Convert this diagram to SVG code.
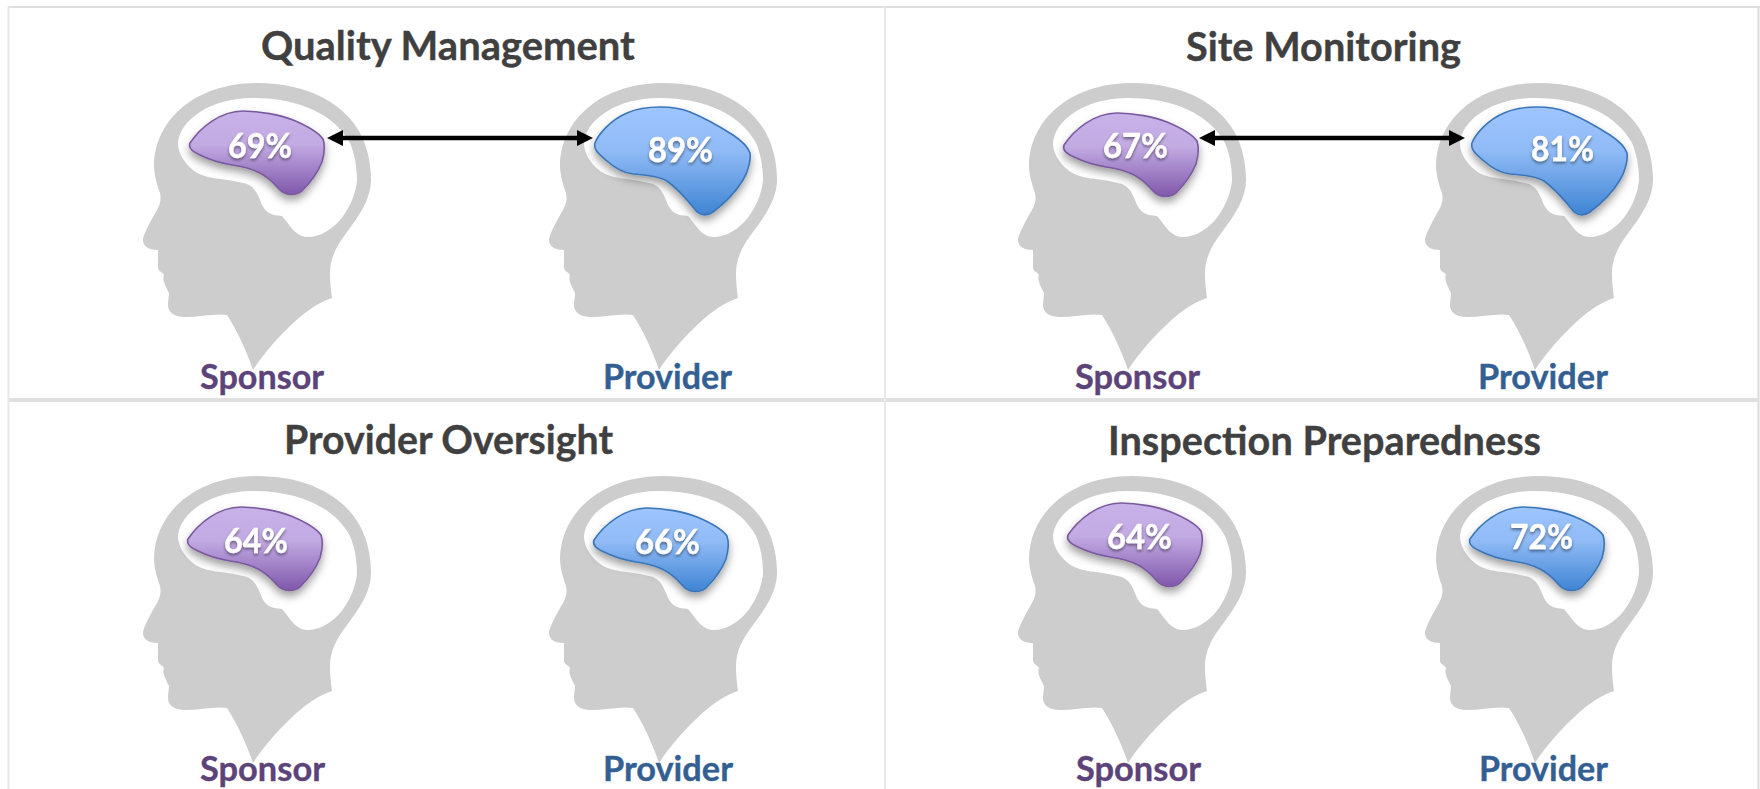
<svg xmlns="http://www.w3.org/2000/svg" width="1760" height="789" viewBox="0 0 1760 789">
<style>
text{font-family:Lato,"Liberation Sans",sans-serif;font-weight:700;text-anchor:middle;stroke-width:.35px}
.title{font-size:40px;fill:#404040;stroke:#404040}
.sp{font-size:34px;fill:#5c4379;stroke:#5c4379}
.pr{font-size:34px;fill:#345f93;stroke:#345f93}
.pct{font-size:35px;fill:#fff;stroke:#fff;filter:url(#ts)}
.head{fill:#cdcdcd;fill-rule:evenodd}
.grid{stroke:#e2e2e2;fill:none}
.purple{fill:url(#gp);stroke:#7a5a9e;filter:url(#ds)}
.blue{fill:url(#gb);stroke:#3a75b8;filter:url(#ds)}
.conn{stroke:#000;stroke-width:4.500;fill:none;marker-start:url(#ah);marker-end:url(#ah)}
</style>
<defs>
<linearGradient id="gp" x1="0" y1="0" x2="0" y2="1"><stop offset="0" stop-color="#c8b2e8"/><stop offset=".4" stop-color="#c2aae3"/><stop offset="1" stop-color="#8058ab"/></linearGradient>
<linearGradient id="gb" x1="0" y1="0" x2="0" y2="1"><stop offset="0" stop-color="#9ec5ff"/><stop offset=".4" stop-color="#90bbf6"/><stop offset="1" stop-color="#3f84d3"/></linearGradient>
<filter id="ds" x="-15%" y="-15%" width="130%" height="140%"><feDropShadow dx="0" dy="5" stdDeviation="4" flood-color="#000" flood-opacity=".38"/></filter>
<filter id="ts" x="-15%" y="-15%" width="130%" height="140%"><feDropShadow dx="0" dy="2" stdDeviation="1.5" flood-color="#000" flood-opacity=".45"/></filter>
<marker id="ah" markerUnits="userSpaceOnUse" viewBox="0 0 16 16" refX="8" refY="8" markerWidth="16" markerHeight="16" orient="auto-start-reverse"><path d="M0 0L16 8L0 16Z" fill="#000"/></marker>
<path id="h" d="M257 83C310 83 345 105 360 133C368 148 371 165 371 180C371 198 360 215 347 232C337 245 330 258 330 273C330 283 331 290 332 298C310 305 290 325 272 345C265 353 258 362 253 370C247 352 237 330 227 315C215 313 200 317 185 317C175 317 168 313 168 305C168 300 169 297 169 293C165 285 162 280 164 275C163 272 158 272 158 267C158 262 158 255 158 250C150 250 143 247 143 240C143 235 150 222 157 210C161 203 161 198 160 193C155 180 154 170 154 165C155 120 195 83 257 83ZM253 98C300 98 335 115 350 143C355 155 357 168 357 180C355 205 335 237 307 237C295 237 288 222 282 216C272 215 267 214 262 205C258 195 255 185 243 183C225 178 205 180 193 170C183 162 178 152 178 143C180 120 210 98 253 98Z"/>
<path id="b" stroke-width="1.600" d="M190 143C200 128 220 111 243 111C260 111 280 115 293 120C305 125 318 132 323 139C325 145 324 155 322 162C318 172 310 183 302 191C296 196 285 196 279 189C272 181 268 177 260 173C250 168 240 166 232 165C220 163 210 160 200 155C193 152 188 148 190 143Z"/>
<path id="bb" stroke-width="1.600" d="M595 143C598 135 610 120 627 113C638 108 650 107 660 107C670 107 680 108 690 112C705 118 722 128 733 135C742 141 748 147 750 153C751 160 748 172 743 180C737 190 725 203 713 212C707 216 702 216 697 212C690 204 682 192 667 181C660 177 650 175 633 174C625 173 617 170 607 161C600 155 593 150 595 143Z"/>
</defs>
<rect width="1760" height="789" fill="#fff"/>
<g id="grid" class="grid">
<path stroke="#dfdfdf" stroke-width="2" d="M8 7H1760"/>
<path stroke="#e0e0e0" stroke-width="4" d="M8 400H1759"/>
<path stroke="#e8e8e8" stroke-width="2" d="M8.500 7V789M885 7V789"/>
<path stroke="#dcdcdc" stroke-width="2" d="M1758.500 7V789"/>
</g>
<g id="panel-quality">
<text class="title" x="448" y="59.500" textLength="374" lengthAdjust="spacingAndGlyphs">Quality Management</text>
<g id="q-sponsor"><use href="#h" class="head"/><use href="#b" class="purple"/><text class="pct" x="260" y="158" textLength="64" lengthAdjust="spacingAndGlyphs">69%</text><text class="sp" x="262" y="389" textLength="124" lengthAdjust="spacingAndGlyphs">Sponsor</text></g>
<g id="q-provider"><use href="#h" class="head" x="406"/><use href="#bb" class="blue"/><text class="pct" x="680.500" y="162" textLength="65" lengthAdjust="spacingAndGlyphs">89%</text><text class="pr" x="667.500" y="389" textLength="129" lengthAdjust="spacingAndGlyphs">Provider</text></g>
</g>
<g id="panel-site">
<text class="title" x="1323.500" y="60.500" textLength="275" lengthAdjust="spacingAndGlyphs">Site Monitoring</text>
<g id="s-sponsor"><use href="#h" class="head" x="875"/><use href="#b" class="purple" x="874" y="2"/><text class="pct" x="1135.500" y="158" textLength="65" lengthAdjust="spacingAndGlyphs">67%</text><text class="sp" x="1137.500" y="389" textLength="125" lengthAdjust="spacingAndGlyphs">Sponsor</text></g>
<g id="s-provider"><use href="#h" class="head" x="1282"/><use href="#bb" class="blue" x="877"/><text class="pct" x="1562.500" y="161" textLength="63" lengthAdjust="spacingAndGlyphs">81%</text><text class="pr" x="1543" y="389" textLength="130" lengthAdjust="spacingAndGlyphs">Provider</text></g>
</g>
<g id="panel-oversight">
<text class="title" x="448.500" y="454" textLength="329" lengthAdjust="spacingAndGlyphs">Provider Oversight</text>
<g id="o-sponsor"><use href="#h" class="head" y="393"/><use href="#b" class="purple" x="-2" y="396"/><text class="pct" x="256" y="553" textLength="64" lengthAdjust="spacingAndGlyphs">64%</text><text class="sp" x="262.500" y="781" textLength="125" lengthAdjust="spacingAndGlyphs">Sponsor</text></g>
<g id="o-provider"><use href="#h" class="head" x="406" y="393"/><use href="#b" class="blue" x="404" y="397"/><text class="pct" x="667.500" y="554" textLength="65" lengthAdjust="spacingAndGlyphs">66%</text><text class="pr" x="668" y="781" textLength="130" lengthAdjust="spacingAndGlyphs">Provider</text></g>
</g>
<g id="panel-inspection">
<text class="title" x="1324.500" y="454.500" textLength="433" lengthAdjust="spacingAndGlyphs">Inspection Preparedness</text>
<g id="i-sponsor"><use href="#h" class="head" x="875" y="393"/><use href="#b" class="purple" x="878" y="392"/><text class="pct" x="1139.500" y="549" textLength="65" lengthAdjust="spacingAndGlyphs">64%</text><text class="sp" x="1138.500" y="781" textLength="125" lengthAdjust="spacingAndGlyphs">Sponsor</text></g>
<g id="i-provider"><use href="#h" class="head" x="1282" y="393"/><use href="#b" class="blue" x="1280" y="396"/><text class="pct" x="1541.500" y="549" textLength="63" lengthAdjust="spacingAndGlyphs">72%</text><text class="pr" x="1543.500" y="781" textLength="129" lengthAdjust="spacingAndGlyphs">Provider</text></g>
</g>
<g id="connectors">
<line class="conn" x1="335" y1="138" x2="585" y2="138"/>
<line class="conn" x1="1207" y1="138" x2="1457" y2="138"/>
</g>
</svg>
